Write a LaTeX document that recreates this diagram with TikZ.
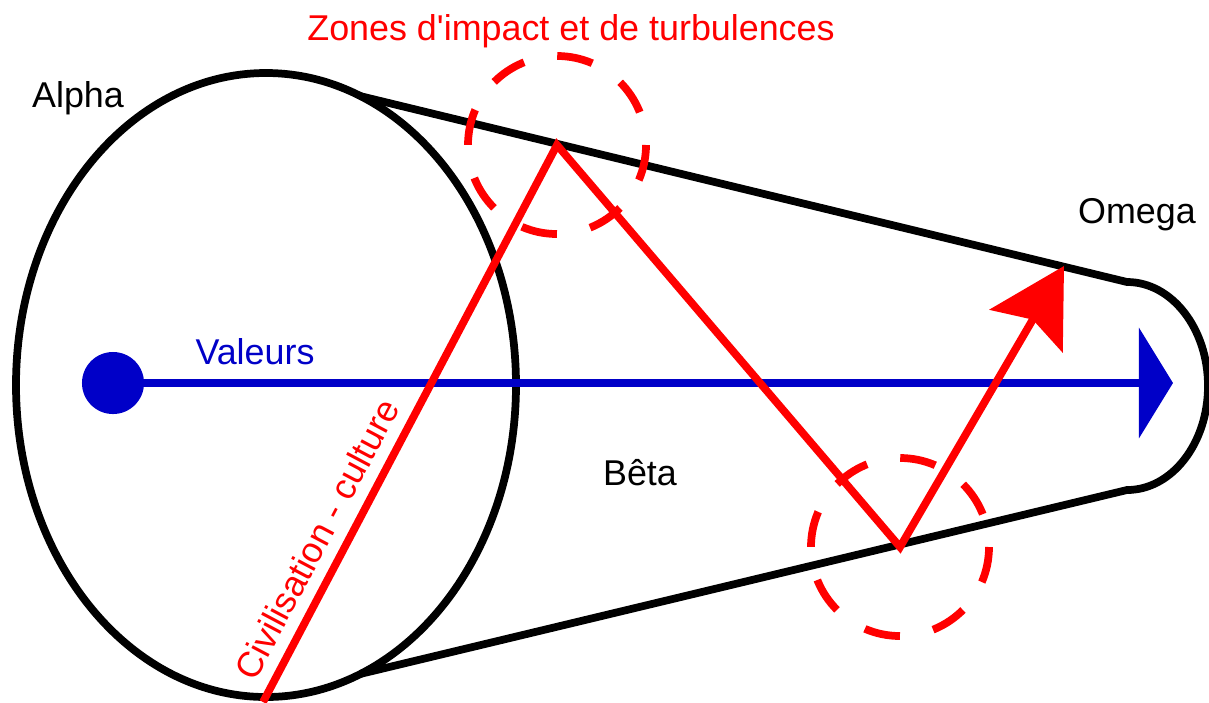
\documentclass[tikz,border=0pt]{standalone}
\usepackage{fontspec}
\setmainfont{Liberation Sans}
\usetikzlibrary{arrows.meta}

\definecolor{valblue}{RGB}{0,0,200}
\definecolor{zonered}{RGB}{255,0,0}

\begin{document}
\begin{tikzpicture}[x=0.01cm,y=-0.01cm,
  outline/.style={line width=2.2pt,black},
  redline/.style={line width=2.2pt,zonered},
  zone/.style={line width=2.2pt,zonered,dash pattern=on 0.36cm off 0.339cm},
  lbl/.style={font=\fontsize{10.2}{12}\selectfont,inner sep=0pt,anchor=base}]
\useasboundingbox (0,0) rectangle (1209,702);
% cone
\coordinate (topA) at (360,96);
\coordinate (botA) at (360,674);
\coordinate (topO) at (1127,282);
\draw[outline] (266,385) ellipse [x radius=250, y radius=312];
\draw[outline] (topA) -- (topO) arc[start angle=-90, end angle=90, x radius=81, y radius=104] -- (botA);
% valeurs
\node[circle,fill=valblue,minimum size=0.62cm,inner sep=0pt] (dot) at (113,383) {};
\coordinate (valend) at (1173,383);
\draw[line width=2.4pt,valblue,-{Triangle[length=0.34cm,width=1.09cm]}] (dot.center) -- (valend);
% red path
\coordinate (civ) at (263,702);
\coordinate (hit1) at (557,145);
\coordinate (hit2) at (900,547);
\coordinate (tip) at (1064,266);
\draw[redline,line join=miter,-{Stealth[length=0.75cm,width=0.84cm,inset=0.13cm]}] (civ) -- (hit1) -- (hit2) -- (tip);
\draw[zone] (hit1) circle [radius=89];
\draw[zone] (hit2) circle [radius=89];
% labels
\node[lbl,zonered] (zones) at (571,40) {Zones d\textquotesingle impact et de turbulences};
\node[lbl] (alpha) at (78,107) {Alpha};
\node[lbl] (omega) at (1137,223) {Omega};
\node[lbl,valblue] (valeurs) at (255,364) {Valeurs};
\node[lbl] (beta) at (640,485) {Bêta};
\node[lbl,zonered,rotate=62.1] (civil) at (328,545) {Civilisation - culture};
\end{tikzpicture}
\end{document}
